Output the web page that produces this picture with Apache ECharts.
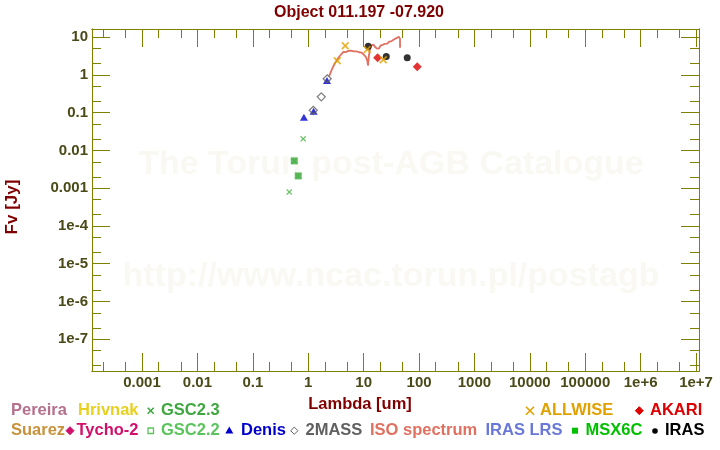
<!DOCTYPE html>
<html><head><meta charset="utf-8">
<script src="https://cdn.jsdelivr.net/npm/echarts@6/dist/echarts.min.js"></script>
<style>html,body{margin:0;padding:0;background:#fff}#c{width:720px;height:450px}</style>
</head><body><div id="c"></div><script>
// ---- Data (wavelength in micron, flux in Jy) ----
const gsc23Lam = [0.454, 0.559, 0.66, 0.81];
const gsc23Flux = [7.9e-4, 0.00527, 0.00211, 0.0202];
const gsc22Lam = [0.559, 0.66];
const gsc22Flux = [0.00527, 0.00211];
const denisLam = [0.836, 1.25, 2.18];
const denisFlux = [0.0753, 0.109, 0.706];
const twomassLam = [1.23, 1.72, 2.2];
const twomassFlux = [0.115, 0.261, 0.783];
const allwiseLam = [3.34, 4.65, 11.6, 22.6];
const allwiseFlux = [2.35, 5.87, 4.68, 2.5];
const irasLam = [12.1, 25.6, 61.2];
const irasFlux = [5.72, 3.05, 2.82];
const akariLam = [17.9, 92.8];
const akariFlux = [2.82, 1.63];
const isoLam = [2.39, 2.45, 2.52, 2.6, 2.68, 2.77, 2.87, 2.97, 3.08, 3.2, 3.33, 3.47, 3.62, 3.78, 3.95, 4.12, 4.3, 4.45, 4.6, 4.75,
  4.9, 5.1, 5.3, 5.5, 5.7, 5.9, 6.1, 6.35, 6.6, 6.85, 7.1, 7.4, 7.7, 8.0, 8.3, 8.6, 8.9, 9.2, 9.5, 9.8,
  10.1, 10.4, 10.7, 11.0, 11.3, 11.55, 11.8, 11.95, 12.1, 12.3, 12.5, 12.75, 13.0, 13.3, 13.6, 13.9, 14.2, 14.6, 15.0, 15.4,
  15.8, 16.2, 16.7, 17.2, 17.7, 18.2, 18.7, 19.2, 19.7, 20.3, 20.9, 21.5, 22.1, 22.8, 23.5, 24.2, 25.0, 25.8, 26.6, 27.4,
  28.3, 29.2, 30.1, 31.0, 32.0, 33.0, 34.0, 35.0, 36.0, 37.0, 38.0, 39.0, 40.0, 41.0, 42.0, 43.0, 44.0, 44.8, 45.3, 45.4];
const isoFlux = [0.92, 1.0, 1.12, 1.25, 1.4, 1.56, 1.74, 1.92, 2.1, 2.3, 2.52, 2.75, 3.0, 3.25, 3.5, 3.8, 4.06, 3.95, 4.15, 4.0,
  4.25, 4.1, 4.3, 4.05, 4.2, 4.35, 4.1, 4.32, 4.15, 4.25, 4.06, 4.18, 4.0, 4.1, 3.95, 3.97, 3.8, 3.85, 3.6, 3.55,
  3.4, 3.3, 3.1, 2.95, 2.7, 2.45, 2.1, 1.76, 2.0, 2.6, 3.3, 4.0, 4.7, 5.3, 5.9, 5.97, 6.3, 6.1, 6.35, 5.95,
  5.6, 5.52, 5.2, 5.0, 4.75, 4.68, 4.9, 5.5, 5.3, 5.97, 5.7, 6.5, 6.2, 6.75, 6.3, 6.62, 6.4, 7.0, 6.7, 7.31,
  7.0, 7.6, 7.9, 8.11, 7.8, 8.4, 8.2, 8.61, 8.3, 9.0, 8.7, 9.33, 9.0, 9.7, 9.3, 10.2, 9.6, 10.1, 8.99, 5.19];

// ---- Ticks ----
const xMajor = [1e-3, 1e-2, 0.1, 1, 10, 100, 1e3, 1e4, 1e5, 1e6, 1e7];
const xTickLabels = ['0.001', '0.01', '0.1', '1', '10', '100', '1000', '10000', '100000', '1e+6', '1e+7'];
const xMinor = [2e-4, 5e-4, 2e-3, 5e-3, 2e-2, 5e-2, 0.2, 0.5, 2, 5, 20, 50, 200, 500, 2e3, 5e3, 2e4, 5e4, 2e5, 5e5, 2e6, 5e6];
const yMajor = [1e-7, 1e-6, 1e-5, 1e-4, 1e-3, 1e-2, 0.1, 1, 10];
const yTickLabels = ['1e-7', '1e-6', '1e-5', '1e-4', '0.001', '0.01', '0.1', '1', '10'];
const yMinor = [2e-8, 5e-8, 2e-7, 5e-7, 2e-6, 5e-6, 2e-5, 5e-5, 2e-4, 5e-4, 2e-3, 5e-3, 0.02, 0.05, 0.2, 0.5, 2, 5];
const X_MIN = 1.25e-4, X_MAX = 1.13e7, Y_MIN = 1.45e-8, Y_MAX = 16.3;

const AX = '#808000', LBL = '#4a4a18', FONT = 'Liberation Sans, Arial, sans-serif';
function pairs(a, b) { return a.map((v, i) => [v, b[i]]); }
function labelFor(values, labels) {
  return function (v) {
    for (let i = 0; i < values.length; i++) if (Math.abs(Math.log10(v) - Math.log10(values[i])) < 1e-6) return labels[i];
    return '';
  };
}
function axis(dim, pos, grid, ticks, len, labels) {
  const isX = dim === 'x';
  const a = {
    type: 'log', logBase: 10, gridIndex: grid, position: pos,
    min: isX ? X_MIN : Y_MIN, max: isX ? X_MAX : Y_MAX,
    axisLine: { show: true, onZero: false, lineStyle: { color: AX, width: 1 } },
    axisTick: { show: true, inside: true, length: len, customValues: ticks, lineStyle: { color: AX, width: 1 } },
    minorTick: { show: false }, splitLine: { show: false }, minorSplitLine: { show: false },
    axisLabel: { show: false }
  };
  if (labels) {
    a.axisLabel = { show: true, customValues: ticks, formatter: labelFor(ticks, labels), color: LBL, fontFamily: FONT, fontWeight: 'bold', fontSize: 15, margin: 4 };
  }
  return a;
}
const CROSS = 'path://M0,1.5L1.5,0L5,3.5L8.5,0L10,1.5L6.5,5L10,8.5L8.5,10L5,6.5L1.5,10L0,8.5L3.5,5Z';

const gridRect = { left: 92, right: 21, top: 29, bottom: 79 };
const chart = echarts.init(document.getElementById('c'), null, { renderer: 'canvas' });

function legendText(x, y, t, c) {
  return { type: 'text', left: x, top: y - 9.5, style: { text: t, fill: c, font: 'bold 16.5px ' + FONT } };
}
function xMark(cx, cy, s, c, w) {
  return [
    { type: 'line', shape: { x1: cx - s, y1: cy - s, x2: cx + s, y2: cy + s }, style: { stroke: c, lineWidth: w } },
    { type: 'line', shape: { x1: cx - s, y1: cy + s, x2: cx + s, y2: cy - s }, style: { stroke: c, lineWidth: w } }
  ];
}
function diamond(cx, cy, r, fill, stroke) {
  return { type: 'polygon', shape: { points: [[cx, cy - r], [cx + r, cy], [cx, cy + r], [cx - r, cy]] }, style: { fill: fill, stroke: stroke, lineWidth: 1 } };
}

const graphics = [
  { type: 'text', x: 391, y: 165, z: -10, style: { text: 'The Torun post-AGB Catalogue', fill: '#f9f8f2', font: 'bold 34px ' + FONT, align: 'center', verticalAlign: 'middle' } },
  { type: 'text', x: 391, y: 277, z: -10, style: { text: 'http://www.ncac.torun.pl/postagb', fill: '#f9f8f2', font: 'bold 34px ' + FONT, align: 'center', verticalAlign: 'middle' } },
  { type: 'text', x: 359, y: 12.5, style: { text: 'Object 011.197 -07.920', fill: '#800000', font: 'bold 16px ' + FONT, align: 'center', verticalAlign: 'middle' } },
  { type: 'text', x: 360, y: 404, style: { text: 'Lambda [um]', fill: '#800000', font: 'bold 16.5px ' + FONT, align: 'center', verticalAlign: 'middle' } },
  { type: 'text', x: 12, y: 207, rotation: Math.PI / 2, style: { text: 'Fv [Jy]', fill: '#800000', font: 'bold 17px ' + FONT, align: 'center', verticalAlign: 'middle' } },
  legendText(11, 411, 'Pereira', '#b4708c'),
  legendText(78, 411, 'Hrivnak', '#e8d020'),
  ...xMark(150.7, 410.7, 3, '#3fa73f', 1.6),
  legendText(161, 411, 'GSC2.3', '#3fa73f'),
  ...xMark(530, 410.7, 4, '#e0a000', 1.6),
  legendText(540, 411, 'ALLWISE', '#e0a000'),
  diamond(639.3, 410.7, 4, '#dd0000', '#dd0000'),
  legendText(650, 411, 'AKARI', '#dd0000'),
  legendText(11, 431, 'Suarez', '#c8923c'),
  diamond(70, 430.7, 4, '#d0106a', '#d0106a'),
  legendText(76.5, 431, 'Tycho-2', '#d0106a'),
  { type: 'rect', shape: { x: 148, y: 428, width: 5.5, height: 5.5 }, style: { fill: 'none', stroke: '#5cc45c', lineWidth: 1.3 } },
  legendText(161, 431, 'GSC2.2', '#5cc45c'),
  { type: 'polygon', shape: { points: [[229.3, 426.5], [233.3, 433.5], [225.3, 433.5]] }, style: { fill: '#0000cc' } },
  legendText(241, 431, 'Denis', '#0000cc'),
  diamond(294.3, 430.7, 3.6, 'none', '#606060'),
  legendText(305.5, 431, '2MASS', '#606060'),
  legendText(370, 431, 'ISO spectrum', '#e07060'),
  legendText(485.5, 431, 'IRAS LRS', '#6a78d8'),
  { type: 'rect', shape: { x: 572, y: 427.7, width: 6, height: 6 }, style: { fill: '#00c000' } },
  legendText(585.5, 431, 'MSX6C', '#00c000'),
  { type: 'circle', shape: { cx: 655, cy: 431, r: 2.8 }, style: { fill: '#000' } },
  legendText(665, 431, 'IRAS', '#000000')
];

const option = {
  animation: false,
  backgroundColor: '#ffffff',
  grid: [Object.assign({ show: false }, gridRect), Object.assign({ show: false }, gridRect)],
  xAxis: [
    axis('x', 'bottom', 0, xMajor, 18, xTickLabels),
    axis('x', 'top', 0, xMajor, 18, null),
    axis('x', 'bottom', 1, xMinor, 9, null),
    axis('x', 'top', 1, xMinor, 9, null)
  ],
  yAxis: [
    axis('y', 'left', 0, yMajor, 18, yTickLabels),
    axis('y', 'right', 0, yMajor, 18, null),
    axis('y', 'left', 1, yMinor, 9, null),
    axis('y', 'right', 1, yMinor, 9, null)
  ],
  graphic: graphics,
  series: [
    { name: 'ISO spectrum', type: 'line', data: pairs(isoLam, isoFlux), showSymbol: false, symbol: 'none', lineStyle: { color: '#e07060', width: 1.8 }, z: 2 },
    { name: 'GSC2.2', type: 'scatter', data: pairs(gsc22Lam, gsc22Flux), symbol: 'rect', symbolSize: 7, itemStyle: { color: '#3daa3d' }, z: 3 },
    { name: 'GSC2.3', type: 'scatter', data: pairs(gsc23Lam, gsc23Flux), symbol: CROSS, symbolSize: 6, itemStyle: { color: '#46b046' }, z: 4 },
    { name: 'Denis', type: 'scatter', data: pairs(denisLam, denisFlux), symbol: 'triangle', symbolSize: [8, 7], itemStyle: { color: '#0000cc' }, z: 4 },
    { name: '2MASS', type: 'scatter', data: pairs(twomassLam, twomassFlux), symbol: 'diamond', symbolSize: 8, itemStyle: { color: 'rgba(0,0,0,0)', borderColor: '#606060', borderWidth: 1.3 }, z: 5 },
    { name: 'IRAS', type: 'scatter', data: pairs(irasLam, irasFlux), symbol: 'circle', symbolSize: 7, itemStyle: { color: '#000000' }, z: 3 },
    { name: 'AKARI', type: 'scatter', data: pairs(akariLam, akariFlux), symbol: 'diamond', symbolSize: 9, itemStyle: { color: '#dd0000' }, z: 4 },
    { name: 'ALLWISE', type: 'scatter', data: pairs(allwiseLam, allwiseFlux), symbol: CROSS, symbolSize: 8, itemStyle: { color: '#e0a000' }, z: 6 }
  ]
};
chart.setOption(option);
</script></body></html>
